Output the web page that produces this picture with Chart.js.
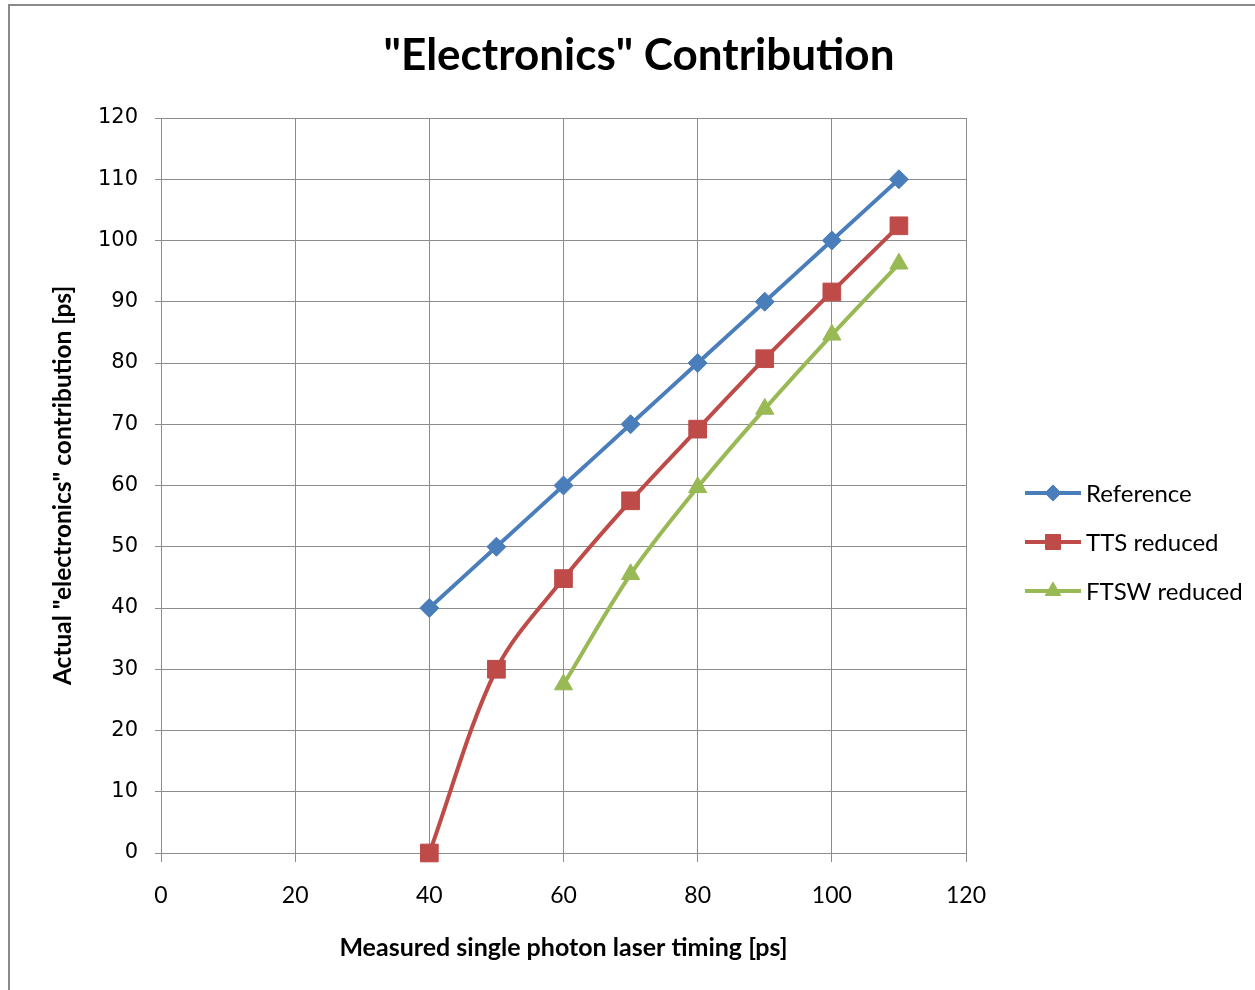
<!DOCTYPE html>
<html>
<head>
<meta charset="utf-8">
<title>"Electronics" Contribution</title>
<script src="https://cdn.jsdelivr.net/npm/chart.js@4.4.1/dist/chart.umd.min.js"></script>
<style>
  html, body { margin: 0; padding: 0; background: #fff; }
  #wrap { width: 1255px; height: 990px; }
</style>
</head>
<body>
<div id="wrap"><canvas id="chart" width="1255" height="990"></canvas></div>
<script>
// measured laser timing [ps] on x, electronics contribution [ps] on y
const timing = [40, 50, 60, 70, 80, 90, 100, 110];
const reference = [40, 50, 60, 70, 80, 90, 100, 110];
const ttsReduced = [0, 30, 44.8, 57.5, 69.2, 80.7, 91.6, 102.4];
const ftswTiming = [60, 70, 80, 90, 100, 110];
const ftswReduced = [27.5, 45.5, 59.7, 72.5, 84.6, 96.2];

const xTicks = [0, 20, 40, 60, 80, 100, 120];
const yTicks = [0, 10, 20, 30, 40, 50, 60, 70, 80, 90, 100, 110, 120];

const chartTitle = '"Electronics" Contribution';
const seriesNames = ['Reference', 'TTS reduced', 'FTSW reduced'];

const BLUE = '#4A7EBB';
const RED = '#BE4B48';
const GREEN = '#98B954';
const GRID = '#8C8C8C';

const TEXT_FONT = 'Lato, "Open Sans", sans-serif';
const BOTTOM_PAD = 27;

function toPoints(xs, ys) {
  return xs.map((x, i) => ({ x: x, y: ys[i] }));
}

// white page, grey frame on top/left, title and the legend on the right
const decorations = {
  id: 'decorations',
  beforeDraw(chart) {
    const ctx = chart.ctx;
    ctx.save();
    ctx.fillStyle = '#fff';
    ctx.fillRect(0, 0, chart.width, chart.height);
    ctx.strokeStyle = '#8a8a8a';
    ctx.lineWidth = 2;
    ctx.beginPath();
    ctx.moveTo(9, chart.height + 5);
    ctx.lineTo(9, 5);
    ctx.lineTo(chart.width + 5, 5);
    ctx.stroke();
    ctx.restore();
  },
  afterDraw(chart) {
    const ctx = chart.ctx;
    ctx.save();
    ctx.fillStyle = '#000';
    ctx.font = 'bold 44px ' + TEXT_FONT;
    ctx.textAlign = 'center';
    ctx.textBaseline = 'middle';
    ctx.fillText(chartTitle, 639, 56);

    const rows = [493, 542, 591];
    chart.data.datasets.forEach((ds, i) => {
      const y = rows[i];
      ctx.strokeStyle = ds.borderColor;
      ctx.lineWidth = ds.borderWidth;
      ctx.beginPath();
      ctx.moveTo(1025, y);
      ctx.lineTo(1081, y);
      ctx.stroke();
      ctx.fillStyle = ds.pointBackgroundColor;
      ctx.strokeStyle = ds.pointBorderColor;
      ctx.lineWidth = 1;
      Chart.helpers.drawPoint(ctx, {
        pointStyle: ds.pointStyle,
        radius: ds.pointRadius * 0.85,
        rotation: 0,
        borderWidth: 1
      }, 1053, y);
      ctx.fillStyle = '#000';
      ctx.font = '24px ' + TEXT_FONT;
      ctx.textAlign = 'left';
      ctx.fillText(ds.label, 1086, y + 1);
    });
    ctx.restore();
  }
};

function series(label, points, color, style, radius) {
  return {
    label: label,
    data: points,
    borderColor: color,
    backgroundColor: color,
    pointBackgroundColor: color,
    pointBorderColor: color,
    pointStyle: style,
    pointRadius: radius,
    pointHoverRadius: radius,
    pointBorderWidth: 1,
    borderWidth: 4,
    tension: 0.33,
    showLine: true,
    clip: false
  };
}

new Chart(document.getElementById('chart'), {
  type: 'scatter',
  data: {
    datasets: [
      series(seriesNames[0], toPoints(timing, reference), BLUE, 'rectRot', 9.5),
      series(seriesNames[1], toPoints(timing, ttsReduced), RED, 'rect', 12.5),
      series(seriesNames[2], toPoints(ftswTiming, ftswReduced), GREEN, 'triangle', 10.5)
    ]
  },
  plugins: [decorations],
  options: {
    responsive: false,
    animation: false,
    events: [],
    layout: { padding: { left: 48, right: 289, top: 118, bottom: BOTTOM_PAD } },
    plugins: {
      legend: { display: false },
      title: { display: false },
      tooltip: { enabled: false }
    },
    scales: {
      x: {
        type: 'linear',
        min: 0,
        max: 120,
        afterBuildTicks(scale) { scale.ticks = xTicks.map(v => ({ value: v })); },
        afterFit(scale) { scale.height = 990 - BOTTOM_PAD - 853; },
        grid: { color: GRID, lineWidth: 1, tickLength: 9, drawTicks: true },
        border: { color: GRID, width: 1 },
        ticks: {
          color: '#000',
          padding: 20,
          font: { family: TEXT_FONT, size: 23 },
          maxRotation: 0
        },
        title: {
          display: true,
          text: 'Measured single photon laser timing [ps]',
          color: '#000',
          font: { family: TEXT_FONT, size: 25, weight: 'bold' },
          padding: 0
        }
      },
      y: {
        type: 'linear',
        min: 0,
        max: 120,
        afterBuildTicks(scale) { scale.ticks = yTicks.map(v => ({ value: v })); },
        afterFit(scale) { scale.width = 161 - 48; },
        grid: { color: GRID, lineWidth: 1, tickLength: 6, drawTicks: true },
        border: { color: GRID, width: 1 },
        ticks: {
          color: '#000',
          padding: 17,
          font: { family: '"DejaVu Sans", Verdana, sans-serif', size: 21 }
        },
        title: {
          display: true,
          text: 'Actual "electronics" contribution [ps]',
          color: '#000',
          font: { family: TEXT_FONT, size: 24.5, weight: 'bold' },
          padding: 0
        }
      }
    }
  }
});
</script>
</body>
</html>
